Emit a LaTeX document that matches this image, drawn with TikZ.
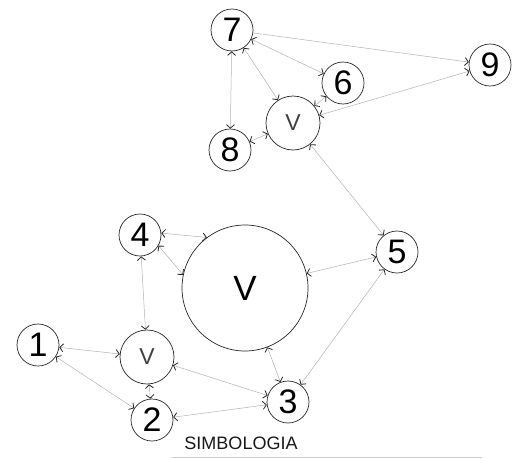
\documentclass[tikz,border=0pt]{standalone}
\usepackage{fontspec}
\setmainfont{Liberation Sans}
\usetikzlibrary{arrows.meta}
\tikzset{
  num/.style={circle, draw=black!85, line width=0.7pt, minimum size=42pt, inner sep=0pt,
    font=\fontsize{34}{36}\selectfont},
  subv/.style={circle, draw=black!85, line width=0.7pt, minimum size=54pt, inner sep=0pt,
    text=black!75, font=\fontsize{23}{26}\selectfont},
  bigv/.style={circle, draw=black!85, line width=0.7pt, minimum size=126pt, inner sep=0pt,
    font=\fontsize{35}{38}\selectfont},
  barb/.tip={Straight Barb[length=3.5pt,width=8pt,color=black!85,line width=0.8pt]},
  link/.style={draw=black!30, line width=0.5pt, arrows={barb-barb}},
  onelink/.style={draw=black!30, line width=0.5pt, arrows={-barb}}
}
\begin{document}
\begin{tikzpicture}[x=1pt,y=-1pt]
    \useasboundingbox (0,0) rectangle (519,458);
    % Numbered nodes
    \foreach \n/\pos in {1/{(38,345)},2/{(152,420)},3/{(288,402)},4/{(140,235)},
                         5/{(397,252)},6/{(343,83)},7/{(232,30)},8/{(230,150)},9/{(490,65)}} {
        \node[num] (n\n) at \pos {\n};
    }
    % V nodes
    \node[bigv] (vbig) at (245,288) {V};
    \node[subv] (vlow) at (147,357) {V};
    \node[subv] (vtop) at (293,123) {V};
    % Links
    \foreach \a/\b in {n1/vlow,n1/n2,n4/vlow,vlow/n2,vlow/n3,n2/n3,vbig/n3,
                       vbig/n5,n5/n3,n5/vtop,n9/vtop,n7/n6,n7/vtop,n7/n8,n8/vtop,n6/vtop} {
        \draw[link] (\a) -- (\b);
    }
    \draw[link] (n4.5) -- (vbig.127);
    \draw[link] (n4.-30) -- (vbig.168);
    \draw[onelink] (n7) -- (n9);
    % Legend
    \node[font=\fontsize{18}{20}\selectfont, text=black!90] (legend) at (241,443) {SIMBOLOGIA};
    \draw[black!20, line width=0.6pt] (172,457) -- (482,457);
\end{tikzpicture}
\end{document}
